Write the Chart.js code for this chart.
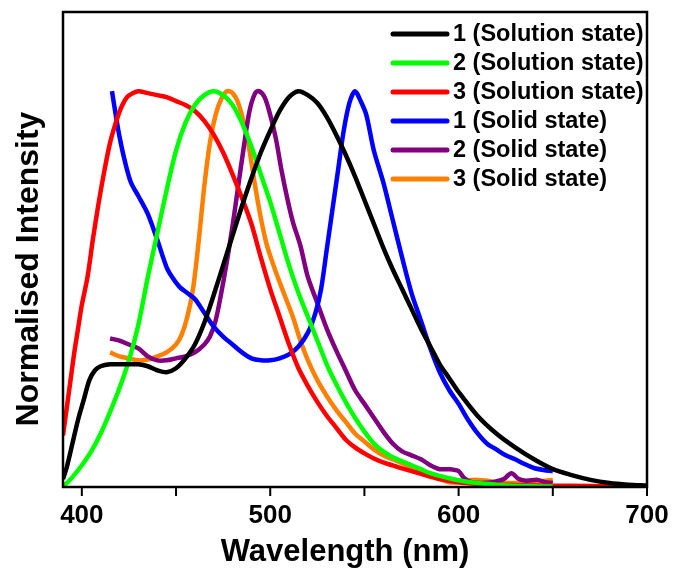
<!DOCTYPE html>
<html>
<head>
<meta charset="utf-8">
<script src="https://cdn.jsdelivr.net/npm/chart.js@4"></script>
<style>
  html, body { margin: 0; padding: 0; background: #ffffff; }
  #chart { display: block; }
</style>
</head>
<body>
<canvas id="chart" width="673" height="568"></canvas>
<script>
// Etiquetas de las series
const seriesLabels = ['1 (Solution state)', '2 (Solution state)', '3 (Solution state)',
  '1 (Solid state)', '2 (Solid state)', '3 (Solid state)'];
const seriesColors = ['#000000', '#00ff00', '#ff0000', '#0000ff', '#800080', '#ff8000'];
const xTicks = [400, 500, 600, 700];

// 1 (Solution state)
const wl1Sol = [390, 392, 395, 398, 401, 404, 407, 410, 415, 420, 425, 430, 435, 440, 445, 450, 455, 460, 465, 470,
  475, 480, 485, 490, 495, 500, 505, 510, 515, 520, 525, 530, 535, 540, 545, 550, 555, 560, 565, 570,
  575, 580, 585, 590, 595, 600, 610, 620, 630, 640, 650, 660, 670, 680, 690, 700];
const int1Sol = [0.02, 0.05, 0.11, 0.17, 0.22, 0.27, 0.295, 0.305, 0.31, 0.31, 0.31, 0.31, 0.305, 0.295, 0.29, 0.30, 0.325, 0.36, 0.415, 0.485,
  0.56, 0.635, 0.71, 0.78, 0.845, 0.90, 0.95, 0.985, 1.0, 0.99, 0.97, 0.935, 0.89, 0.84, 0.785, 0.725, 0.665, 0.605, 0.55, 0.50,
  0.45, 0.40, 0.355, 0.31, 0.275, 0.24, 0.18, 0.135, 0.10, 0.07, 0.045, 0.03, 0.018, 0.01, 0.006, 0.004];

// 2 (Solution state)
const wl2Sol = [390, 395, 400, 405, 410, 415, 420, 425, 430, 435, 440, 445, 450, 455, 460, 465, 470, 475, 480, 485,
  490, 495, 500, 505, 510, 515, 520, 525, 530, 535, 540, 545, 550, 555, 560, 565, 570, 575, 580, 585,
  590, 595, 600, 610, 620, 630, 640, 650];
const int2Sol = [0.0, 0.025, 0.055, 0.09, 0.135, 0.19, 0.25, 0.32, 0.41, 0.53, 0.64, 0.75, 0.85, 0.92, 0.965, 0.99, 1.0, 0.99, 0.965, 0.92,
  0.86, 0.79, 0.72, 0.64, 0.56, 0.49, 0.43, 0.37, 0.31, 0.26, 0.215, 0.175, 0.14, 0.11, 0.09, 0.075, 0.065, 0.055, 0.045, 0.035,
  0.028, 0.022, 0.017, 0.01, 0.006, 0.003, 0.002, 0.001];

// 3 (Solution state)
const wl3Sol = [390, 392, 394, 396, 398, 400, 403, 406, 409, 412, 415, 418, 421, 424, 427, 430, 435, 440, 445, 450,
  455, 460, 465, 470, 475, 480, 485, 490, 495, 500, 505, 510, 515, 520, 525, 530, 535, 540, 545, 550,
  555, 560, 570, 580, 590, 600, 610, 620, 640, 660, 680, 700];
const int3Sol = [0.13, 0.20, 0.27, 0.34, 0.40, 0.46, 0.53, 0.63, 0.72, 0.80, 0.87, 0.92, 0.96, 0.985, 0.995, 1.0, 0.995, 0.99, 0.985, 0.975,
  0.965, 0.95, 0.925, 0.89, 0.845, 0.79, 0.73, 0.665, 0.58, 0.50, 0.43, 0.36, 0.30, 0.255, 0.215, 0.18, 0.15, 0.12, 0.10, 0.085,
  0.072, 0.062, 0.047, 0.033, 0.02, 0.012, 0.008, 0.006, 0.004, 0.003, 0.002, 0.002];

// 1 (Solid state)
const wl1Sol_s = [416, 418, 420, 423, 426, 430, 435, 440, 445, 448, 452, 456, 460, 465, 470, 475, 480, 485, 490, 495,
  500, 505, 510, 515, 520, 524, 527, 530, 533, 536, 539, 542, 545, 548, 551, 555, 560, 565, 570, 575,
  580, 585, 590, 595, 600, 605, 610, 615, 620, 625, 630, 635, 640, 645, 650];
const int1Sol_s = [1.0, 0.94, 0.885, 0.82, 0.77, 0.735, 0.69, 0.625, 0.555, 0.53, 0.505, 0.49, 0.475, 0.44, 0.405, 0.38, 0.36, 0.34, 0.325, 0.32,
  0.32, 0.325, 0.335, 0.355, 0.39, 0.44, 0.50, 0.60, 0.70, 0.80, 0.90, 0.97, 1.0, 0.975, 0.94, 0.85, 0.77, 0.675, 0.58, 0.49,
  0.42, 0.35, 0.29, 0.245, 0.21, 0.17, 0.136, 0.11, 0.095, 0.08, 0.07, 0.058, 0.048, 0.043, 0.04];

// 2 (Solid state)
const wl2Sol_s = [415, 420, 425, 430, 435, 440, 445, 450, 455, 460, 465, 468, 471, 474, 477, 480, 483, 486, 489, 492,
  494, 497, 500, 503, 506, 509, 512, 516, 520, 525, 530, 535, 540, 545, 550, 555, 560, 565, 570, 575,
  580, 585, 590, 595, 600, 603, 607, 612, 618, 624, 628, 632, 636, 642, 646, 650];
const int2Sol_s = [0.375, 0.37, 0.36, 0.35, 0.33, 0.32, 0.32, 0.325, 0.33, 0.34, 0.36, 0.38, 0.42, 0.49, 0.57, 0.66, 0.76, 0.86, 0.95, 0.995,
  1.0, 0.985, 0.94, 0.88, 0.80, 0.73, 0.67, 0.61, 0.53, 0.465, 0.40, 0.345, 0.295, 0.245, 0.21, 0.175, 0.14, 0.11, 0.09, 0.08,
  0.07, 0.055, 0.045, 0.045, 0.04, 0.022, 0.012, 0.01, 0.012, 0.02, 0.035, 0.02, 0.016, 0.018, 0.012, 0.01];

// 3 (Solid state)
const wl3Sol_s = [415, 420, 425, 430, 435, 440, 445, 450, 453, 456, 459, 462, 465, 468, 471, 474, 477, 480, 483, 486,
  489, 492, 495, 498, 501, 504, 508, 512, 516, 520, 525, 530, 535, 540, 545, 550, 555, 560, 565, 570,
  575, 580, 585, 590, 595, 600, 605, 610, 615, 620, 625, 630, 635, 640, 645, 650];
const int3Sol_s = [0.34, 0.33, 0.325, 0.32, 0.322, 0.33, 0.34, 0.36, 0.385, 0.43, 0.50, 0.62, 0.76, 0.87, 0.94, 0.98, 1.0, 0.995, 0.97, 0.92,
  0.85, 0.76, 0.68, 0.615, 0.57, 0.53, 0.48, 0.43, 0.37, 0.32, 0.27, 0.23, 0.195, 0.165, 0.135, 0.115, 0.095, 0.08, 0.07, 0.06,
  0.05, 0.04, 0.03, 0.02, 0.012, 0.012, 0.017, 0.018, 0.016, 0.012, 0.01, 0.01, 0.01, 0.012, 0.015, 0.018];

const FONT = '"Liberation Sans", Arial, sans-serif';

function toPoints(xs, ys) {
  return xs.map((x, i) => ({ x: x, y: ys[i] }));
}

const allSeries = [
  toPoints(wl1Sol, int1Sol),
  toPoints(wl2Sol, int2Sol),
  toPoints(wl3Sol, int3Sol),
  toPoints(wl1Sol_s, int1Sol_s),
  toPoints(wl2Sol_s, int2Sol_s),
  toPoints(wl3Sol_s, int3Sol_s),
];

// Marco, marcas del eje, títulos y leyenda
const decorPlugin = {
  id: 'decor',
  afterDraw(chart) {
    const { ctx, chartArea: a, scales } = chart;
    const xs = scales.x;
    ctx.save();
    ctx.strokeStyle = '#000';
    ctx.lineWidth = 2.5;
    ctx.strokeRect(a.left, a.top, a.right - a.left, a.bottom - a.top);

    // marcas del eje x
    ctx.lineWidth = 2;
    for (let v = 400; v <= 700; v += 50) {
      const px = xs.getPixelForValue(v);
      ctx.beginPath();
      ctx.moveTo(px, a.bottom);
      ctx.lineTo(px, a.bottom + 9);
      ctx.stroke();
    }

    // títulos
    ctx.fillStyle = '#000';
    ctx.font = 'bold 31px ' + FONT;
    ctx.textAlign = 'center';
    ctx.textBaseline = 'middle';
    ctx.fillText('Wavelength (nm)', 345, 552);
    ctx.save();
    ctx.translate(29, 269);
    ctx.rotate(-Math.PI / 2);
    ctx.font = 'bold 32px ' + FONT;
    ctx.fillText('Normalised Intensity', 0, 0);
    ctx.restore();

    // leyenda
    ctx.font = 'bold 23.5px ' + FONT;
    ctx.textAlign = 'left';
    chart.data.datasets.forEach((ds, i) => {
      const y = 34 + i * 29;
      ctx.strokeStyle = ds.borderColor;
      ctx.lineWidth = 5;
      ctx.lineCap = 'round';
      ctx.beginPath();
      ctx.moveTo(393, y);
      ctx.lineTo(447, y);
      ctx.stroke();
      ctx.fillStyle = '#000';
      ctx.fillText(ds.label, 453, y + 1);
    });
    ctx.restore();
  }
};

new Chart(document.getElementById('chart'), {
  type: 'line',
  data: {
    datasets: allSeries.map((pts, i) => ({
      label: seriesLabels[i],
      data: pts,
      borderColor: seriesColors[i],
      borderWidth: 4.5,
      pointRadius: 0,
      tension: 0.3,
      fill: false,
    })),
  },
  options: {
    responsive: false,
    animation: false,
    layout: { padding: { left: 63, right: 26, top: 12, bottom: 0 } },
    plugins: {
      legend: { display: false },
      tooltip: { enabled: false },
    },
    scales: {
      x: {
        type: 'linear',
        min: 390,
        max: 700,
        afterFit: (s) => { s.height = 81; s.paddingLeft = 0; s.paddingRight = 0; },
        afterBuildTicks: (s) => { s.ticks = xTicks.map(v => ({ value: v })); },
        grid: { display: false },
        border: { display: false },
        ticks: {
          color: '#000',
          padding: 5,
          maxRotation: 0,
          font: { family: FONT, size: 26, weight: 'bold' },
        },
      },
      y: {
        display: false,
        min: 0,
        max: 1.2,
      },
    },
  },
  plugins: [decorPlugin],
});
</script>
</body>
</html>
